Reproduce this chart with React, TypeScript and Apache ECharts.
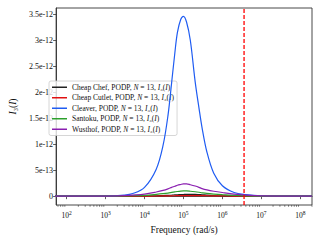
import React, { useEffect, useRef } from 'react';
import * as echarts from 'echarts';

// Frequencies (rad/s)
const frequencies = [50, 1e3, 3e3, 5e3, 1e4, 2e4, 3e4, 4e4, 5e4, 6e4, 7e4, 8.5e4, 1e5, 1.2e5, 1.5e5, 2e5, 2.5e5, 3e5, 4e5, 6e5, 1e6, 2e6, 4e6, 1e7, 1e8, 2e8];

// Values in units of 1e-12
const cheapChef = [0, 0, 0.001, 0.002, 0.004, 0.008, 0.012, 0.016, 0.02, 0.024, 0.027, 0.03, 0.032, 0.034, 0.035, 0.034, 0.03, 0.026, 0.02, 0.013, 0.007, 0.003, 0.001, 0.0003, 0, 0];
const cheapCutlet = [0, 0, 0, 0.001, 0.002, 0.003, 0.005, 0.006, 0.007, 0.008, 0.009, 0.01, 0.011, 0.011, 0.011, 0.011, 0.01, 0.009, 0.008, 0.006, 0.004, 0.002, 0.001, 0, 0, 0];
const cleaver = [0, 0.002, 0.02, 0.05, 0.17, 0.52, 0.98, 1.55, 2.2, 2.75, 3.15, 3.4, 3.46, 3.35, 3.0, 2.2, 1.7, 1.32, 0.85, 0.44, 0.2, 0.07, 0.03, 0.008, 0.0005, 0];
const santoku = [0, 0.0005, 0.004, 0.008, 0.017, 0.035, 0.048, 0.06, 0.072, 0.082, 0.09, 0.097, 0.1, 0.1, 0.095, 0.085, 0.075, 0.065, 0.052, 0.04, 0.028, 0.015, 0.007, 0.002, 0.0001, 0];
const wusthof = [0, 0.001, 0.01, 0.02, 0.04, 0.08, 0.11, 0.14, 0.17, 0.19, 0.21, 0.225, 0.235, 0.235, 0.22, 0.195, 0.17, 0.145, 0.12, 0.095, 0.07, 0.04, 0.02, 0.007, 0.0003, 0];

const UNIT = 1e-12;
const seriesNames = ['Cheap Chef', 'Cheap Cutlet', 'Cleaver', 'Santoku', 'Wusthof'];
const seriesValues = [cheapChef, cheapCutlet, cleaver, santoku, wusthof];
const seriesColors = ['#222222', '#e01010', '#1f5cf2', '#2ca02c', '#8a1fb0'];
const cutoffFrequency = 3.6e6;

const xMin = 53.7;
const xMax = 2e8;
const yMin = -0.17e-12;
const yMax = 3.62e-12;

const FONT = '"Liberation Serif", "DejaVu Serif", serif';

export default function App() {
  const ref = useRef<HTMLDivElement>(null);
  useEffect(() => {
    if (!ref.current) return;
    const chart = echarts.init(ref.current, undefined, { renderer: 'svg' });

    const minorTicks: number[][] = [];
    for (let n = 1; n <= 8; n++) {
      for (let k = 2; k <= 9; k++) {
        const v = k * Math.pow(10, n);
        if (v >= xMin && v <= xMax) minorTicks.push([v, yMin]);
      }
    }

    const lineSeries: any[] = seriesNames.map((name, i) => ({
      name,
      type: 'line',
      data: frequencies.map((f, j) => [f, seriesValues[i][j] * UNIT]),
      showSymbol: false,
      smooth: 0.35,
      lineStyle: { color: seriesColors[i], width: 1.2 },
      itemStyle: { color: seriesColors[i] },
      z: 3 + i,
    }));

    chart.setOption({
      animation: false,
      backgroundColor: '#ffffff',
      textStyle: { fontFamily: FONT },
      grid: {
        left: 46, right: 8, top: 8, bottom: 31,
        show: true, borderColor: '#333', borderWidth: 0.9,
        containLabel: false,
      },
      legend: {
        data: seriesNames,
        orient: 'vertical',
        left: 49,
        top: 81,
        itemWidth: 15,
        itemHeight: 1.5,
        icon: 'rect',
        itemGap: 2,
        padding: [2, 3, 2, 3],
        backgroundColor: 'rgba(255,255,255,0.8)',
        borderColor: '#cccccc',
        borderWidth: 0.8,
        borderRadius: 2,
        textStyle: {
          fontFamily: FONT, fontSize: 7.5, lineHeight: 8.5, color: '#111',
          rich: { i: { fontFamily: FONT, fontSize: 7.5, lineHeight: 8.5, fontStyle: 'italic', color: '#111' } },
        },
        formatter: (name: string) => `${name}, PODP, {i|N} = 13, {i|I}₃({i|I})`,
      },
      xAxis: {
        type: 'log',
        logBase: 10,
        min: xMin,
        max: xMax,
        name: 'Frequency (rad/s)',
        nameLocation: 'middle',
        nameGap: 20,
        nameTextStyle: { fontFamily: FONT, fontSize: 9.5, color: '#111' },
        axisLine: { show: true, lineStyle: { color: '#333', width: 0.9 } },
        axisTick: { show: true, inside: false, length: 3, lineStyle: { color: '#333', width: 0.8 } },
        splitLine: { show: false },
        minorTick: { show: false },
        axisLabel: {
          showMinLabel: false,
          showMaxLabel: false,
          margin: 5,
          fontFamily: FONT,
          fontSize: 7.5,
          color: '#111',
          rich: { s: { fontSize: 5.5, verticalAlign: 'top', padding: [0, 0, 4, 0], fontFamily: FONT, color: '#111' } },
          formatter: (v: number) => {
            const l = Math.log10(v);
            const e = Math.round(l);
            if (Math.abs(l - e) > 0.01) return '';
            return `10{s|${e}}`;
          },
        },
      },
      yAxis: {
        type: 'value',
        min: yMin,
        max: yMax,
        splitNumber: 7,
        name: '{i|I}₃({i|I})',
        nameLocation: 'middle',
        nameGap: 35,
        nameTextStyle: {
          fontFamily: FONT, fontSize: 9.5, color: '#111',
          rich: { i: { fontFamily: FONT, fontSize: 9.5, fontStyle: 'italic', color: '#111' } },
        },
        axisLine: { show: true, lineStyle: { color: '#333', width: 0.9 } },
        axisTick: { show: true, inside: false, length: 3, lineStyle: { color: '#333', width: 0.8 } },
        splitLine: { show: false },
        axisLabel: {
          showMinLabel: false,
          showMaxLabel: false,
          margin: 3,
          fontFamily: FONT,
          fontSize: 8,
          color: '#111',
          formatter: (v: number) => {
            if (Math.abs(v) < 1e-20) return '0';
            return Number(v.toPrecision(4)).toExponential();
          },
        },
      },
      series: [
        ...lineSeries,
        {
          name: 'cutoff',
          type: 'custom',
          silent: true,
          clip: false,
          data: [[cutoffFrequency, yMin, yMax]],
          renderItem: (params: any, api: any) => {
            const p1 = api.coord([api.value(0), api.value(1)]);
            const p2 = api.coord([api.value(0), api.value(2)]);
            return {
              type: 'line',
              shape: { x1: p1[0], y1: p1[1], x2: p2[0], y2: p2[1] },
              style: { stroke: '#ff0000', lineWidth: 1.3, lineDash: [4, 2] },
            };
          },
          z: 20,
        },
        {
          type: 'custom',
          silent: true,
          clip: false,
          data: minorTicks,
          renderItem: (params: any, api: any) => {
            const p = api.coord([api.value(0), api.value(1)]);
            return {
              type: 'line',
              shape: { x1: p[0], y1: p[1], x2: p[0], y2: p[1] + 1.8 },
              style: { stroke: '#333', lineWidth: 0.6 },
            };
          },
          z: 10,
        },
      ],
    });
    return () => chart.dispose();
  }, []);
  return <div ref={ref} style={{ width: 320, height: 240, position: 'absolute', left: 0, top: 0 }} />;
}
